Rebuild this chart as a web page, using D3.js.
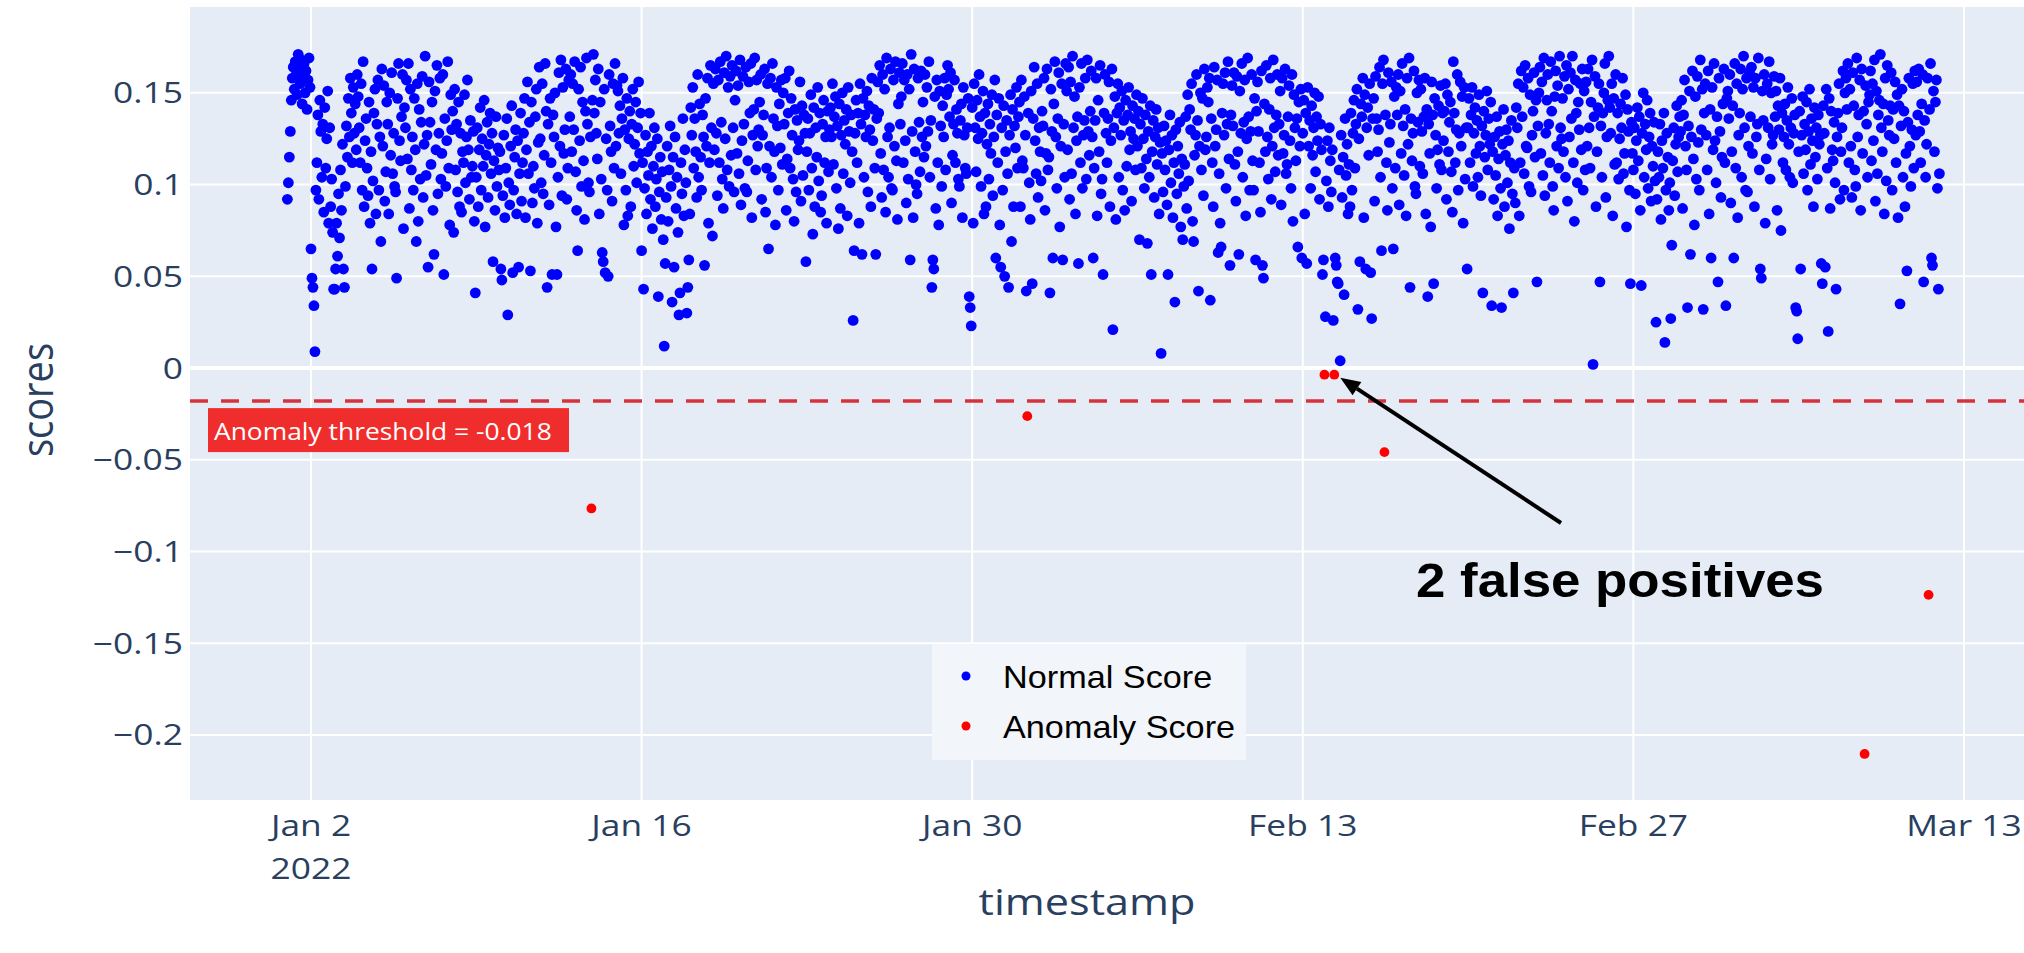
<!DOCTYPE html>
<html>
<head>
<meta charset="utf-8">
<script src="https://cdn.jsdelivr.net/npm/d3@7"></script>
<style>
  html, body { margin: 0; padding: 0; background: #fff; }
  svg { display: block; }
</style>
</head>
<body>
<svg id="chart" width="2024" height="953"></svg>
<script>
// Hourly anomaly scores in thousandths. Each week holds 7 days of 24 hourly values,
// the first week starting 2022-01-01 00:00 UTC. null marks an hour whose score
// appears among the anomalies instead.
const normalWeek1 = [
  [92,101,115,129,146,158,164,152,167,160,149,171,163,155,168,144,159,166,150,162,141,157,169,153],
  [65,49,44,34,9,97,112,138,92,146,129,104,133,85,142,109,125,151,79,131,88,103,74,43],
  [43,54,79,61,95,71,108,86,122,54,44,99,132,115,147,126,158,139,112,153,128,144,119,160],
  [148,131,112,155,97,167,88,124,136,109,94,145,79,118,54,102,139,152,84,133,157,97,126,69],
  [163,121,154,91,107,145,133,84,150,116,161,106,128,99,96,49,147,166,124,113,137,160,76,142],
  [131,157,114,166,87,152,108,126,97,147,119,69,155,80,141,103,134,159,93,122,170,105,127,55],
  [156,134,111,145,86,62,151,119,165,95,128,158,103,117,160,51,136,99,124,167,109,78,149,130]
];
const normalWeek2 = [
  [140,74,152,108,133,96,145,88,128,85,118,112,149,101,126,157,119,92,135,104,110,129,80,41],
  [104,131,88,119,142,97,125,110,146,77,116,134,93,122,139,106,128,58,113,86,137,99,120,108],
  [118,54,48,94,127,82,109,136,29,101,89,121,143,52,97,115,130,84,124,55,106,139,91,112],
  [128,147,82,119,156,106,134,53,145,90,110,98,137,152,79,123,164,125,101,155,95,116,166,140],
  [44,133,89,147,112,51,138,126,150,77,51,104,161,121,168,94,153,117,130,163,92,109,157,137],
  [160,118,155,130,167,107,86,64,152,124,164,99,145,113,81,140,169,133,101,96,126,null,146,171],
  [139,157,128,114,163,84,145,103,63,58,152,52,125,97,50,160,132,118,91,155,109,166,121,154]
];
const normalWeek3 = [
  [151,128,143,106,136,158,78,130,97,147,83,125,140,88,133,152,110,122,145,101,131,156,117,139],
  [64,112,43,98,127,84,118,105,139,92,121,76,110,131,88,103,125,39,96,115,81,107,70,12],
  [57,93,121,80,108,132,99,36,115,55,126,87,104,74,29,41,112,95,136,83,119,101,30,44],
  [59,84,142,127,153,109,136,118,93,160,104,144,115,97,138,126,56,147,121,158,79,112,165,131],
  [72,155,119,163,128,94,157,112,167,134,103,87,161,125,170,108,153,99,159,116,165,131,96,146],
  [162,117,154,106,168,89,124,159,133,98,164,96,113,156,139,166,82,127,141,169,108,157,121,130],
  [145,160,92,127,138,163,85,109,155,65,121,158,104,166,136,118,78,153,132,97,144,120,157,111]
];
const normalWeek4 = [
  [150,133,158,86,114,139,162,109,147,127,103,80,141,96,135,119,124,156,91,143,105,138,128,58],
  [118,136,97,128,149,109,73,142,88,131,115,153,102,139,85,94,133,146,112,126,79,140,107,130],
  [142,126,155,111,137,148,98,132,76,144,87,127,150,106,135,122,141,83,153,129,101,138,118,26],
  [64,128,146,112,139,79,155,133,62,147,104,138,126,151,96,143,130,88,158,124,141,109,62,136],
  [156,139,165,117,93,160,108,152,85,169,126,104,131,163,98,97,157,121,167,113,81,144,161,133],
  [148,166,112,157,124,90,160,103,152,59,171,129,82,163,118,100,95,158,134,107,162,126,145,115],
  [160,121,153,129,167,104,135,44,59,54,148,87,157,112,78,151,132,99,143,126,158,108,149,165]
];
const normalWeek5 = [
  [152,137,161,90,116,133,157,112,141,128,103,99,135,144,82,153,127,109,106,131,147,39,33,23],
  [142,79,155,131,107,146,125,160,137,99,128,151,84,139,88,122,144,103,133,117,149,94,126,157],
  [60,138,112,147,78,55,131,97,143,50,118,135,106,44,127,149,69,141,88,132,120,153,109,137],
  [145,88,157,113,109,148,127,42,null,139,101,81,151,46,136,164,124,106,155,93,131,118,102,140],
  [132,158,86,117,163,108,115,41,152,129,60,144,167,126,98,136,161,77,121,155,59,133,104,166],
  [151,119,164,92,156,106,170,131,148,84,124,137,57,153,112,166,98,127,135,158,103,168,129,116],
  [140,162,126,60,109,135,158,83,146,118,165,95,103,51,139,160,128,112,136,156,88,124,163,21]
];
const normalWeek6 = [
  [131,148,81,139,155,104,142,127,151,97,135,86,146,110,138,153,119,129,91,143,125,136,108,149],
  [121,140,70,133,109,147,125,98,138,114,68,129,104,143,51,118,135,93,126,141,111,131,84,123],
  [8,117,96,132,108,124,89,51,119,138,101,127,82,112,36,130,95,121,106,134,77,114,70,99],
  [111,137,87,149,102,141,130,155,80,69,116,127,160,135,42,121,150,108,147,94,163,119,126,153],
  [145,158,37,136,112,88,164,121,130,157,63,106,79,66,139,155,127,161,98,133,167,114,56,138],
  [154,132,161,111,91,159,118,62,151,128,166,104,134,157,83,125,169,137,97,129,160,113,97,147],
  [59,140,156,129,112,85,162,56,49,144,118,165,126,103,141,158,92,121,168,131,107,138,160,116]
];
const normalWeek7 = [
  [133,151,89,158,117,127,163,106,111,137,154,124,98,160,80,149,131,113,136,66,145,121,152,60],
  [128,146,84,139,57,153,121,135,98,143,116,131,150,107,137,124,148,92,133,119,51,59,null,28],
  [102,124,88,131,113,96,119,26,null,60,56,47,46,108,4,127,93,115,40,136,105,122,84,111],
  [88,139,97,128,146,109,133,152,32,125,58,144,137,158,82,149,54,131,142,116,155,52,27,136],
  [147,91,159,136,118,130,164,104,64,155,168,null,138,112,86,161,123,133,156,98,65,148,109,153],
  [138,160,89,151,117,166,132,105,141,83,158,122,169,44,136,113,128,162,99,95,150,134,157,110],
  [152,129,106,137,158,84,141,39,133,117,77,156,138,46,147,127,98,119,143,111,154,108,139,124]
];
const normalWeek8 = [
  [140,155,92,149,118,134,145,107,85,167,139,112,130,160,97,128,156,121,148,79,153,103,131,54],
  [131,147,112,138,153,99,128,142,117,135,104,149,121,94,132,41,140,115,127,151,108,136,122,145],
  [34,118,92,126,105,137,83,114,129,98,33,122,141,88,116,130,101,124,76,112,135,95,41,109],
  [90,142,131,155,83,112,162,137,153,106,165,121,120,158,99,149,96,127,140,161,115,146,47,132],
  [150,164,117,156,105,169,94,128,146,160,133,112,167,140,99,86,148,162,121,154,109,170,131,125],
  [147,118,159,104,165,91,152,126,161,136,170,112,80,157,139,101,145,130,155,119,163,97,151,108],
  [156,121,163,131,109,145,168,2,137,159,88,118,142,155,47,132,104,139,150,166,93,126,146,170]
];
const normalWeek9 = [
  [142,128,155,83,147,111,160,112,139,103,125,144,131,158,106,117,149,77,141,129,97,46,134,117],
  [108,131,95,124,142,113,137,86,45,128,150,104,133,119,146,98,126,139,91,121,110,134,102,25],
  [92,118,104,133,81,124,109,139,14,97,128,115,86,101,27,67,113,131,94,122,143,107,126,137],
  [129,146,87,138,157,121,108,33,132,151,62,126,162,114,78,148,103,159,123,97,168,130,152,32],
  [139,155,127,108,162,84,141,60,153,119,166,124,101,137,47,158,129,93,115,144,163,112,34,147],
  [151,136,160,90,118,143,60,166,109,155,82,127,139,163,104,152,170,131,97,158,96,121,161,137],
  [164,117,153,88,158,126,133,169,108,54,49,151,135,160,79,114,155,131,167,103,150,122,127,159]
];
const normalWeek10 = [
  [137,151,86,143,130,158,75,139,112,126,144,108,135,153,122,104,131,147,101,128,138,33,31,16],
  [118,140,54,127,148,106,133,119,145,97,129,152,111,136,124,88,142,115,131,103,138,122,127,57],
  [46,143,128,55,152,109,20,147,87,140,119,113,134,101,43,126,139,155,92,118,131,162,97,150],
  [158,141,166,112,152,121,93,161,143,108,99,169,126,138,157,86,163,117,140,null,154,133,104,145],
  [149,162,113,155,124,168,91,151,106,138,146,171,131,118,144,84,158,102,165,135,127,143,161,97],
  [141,125,156,112,149,82,143,35,132,152,104,140,88,117,53,134,158,121,99,130,155,109,162,127],
  [156,138,163,129,112,144,160,47,135,104,122,158,null,141,166,60,56,151,118,145,157,98,43,106]
];
const normalWeeks = [normalWeek1, normalWeek2, normalWeek3, normalWeek4, normalWeek5,
                     normalWeek6, normalWeek7, normalWeek8, normalWeek9, normalWeek10];
const seriesStart = "2022-01-01T00:00:00Z";

// Hours flagged as anomalies and their scores
const anomalyTimes = ["2022-01-13T21:00:00Z", "2022-02-01T08:00:00Z", "2022-02-13T22:00:00Z",
                      "2022-02-14T08:00:00Z", "2022-02-16T11:00:00Z", "2022-03-08T19:00:00Z",
                      "2022-03-11T12:00:00Z"];
const anomalyScores = [-0.0765, -0.0262, -0.0036, -0.0036, -0.0458, -0.2103, -0.1236];

const thresholdValue = -0.018;

// Axis ticks
const yTickValues = [-0.2, -0.15, -0.1, -0.05, 0, 0.05, 0.1, 0.15];
const xTickDates = ["2022-01-02", "2022-01-16", "2022-01-30", "2022-02-13", "2022-02-27", "2022-03-13"];
const xTickLabels = [["Jan 2", "2022"], ["Jan 16"], ["Jan 30"], ["Feb 13"], ["Feb 27"], ["Mar 13"]];

const legendLabels = ["Normal Score", "Anomaly Score"];
const annotationText = "2 false positives";
const falsePositiveTime = "2022-02-14T08:00:00Z";
const falsePositiveScore = -0.0036;

// ---------------------------------------------------------------------------
const plot = { left: 190, top: 7, right: 2024, bottom: 800 };
const colors = {
  bg: "#e5ecf6", grid: "#ffffff", text: "#2a3f5f",
  normal: "#0000ff", anomaly: "#ff0000", threshold: "#d6323c", labelBox: "#f02d2d"
};
const STRETCH = 1.22;   // horizontal widening applied to axis text

const svg = d3.select("#chart");

const x = d3.scaleUtc()
  .domain([new Date("2021-12-27T21:02:00Z"), new Date("2022-03-15T13:00:00Z")])
  .range([plot.left, plot.right]);
const y = d3.scaleLinear()
  .domain([-0.2354, 0.1968])
  .range([plot.bottom, plot.top]);

// plot background
svg.append("rect")
  .attr("x", plot.left).attr("y", plot.top)
  .attr("width", plot.right - plot.left).attr("height", plot.bottom - plot.top)
  .attr("fill", colors.bg);

// vertical grid
const xTicks = xTickDates.map(d => new Date(d + "T00:00:00Z"));
svg.append("g").selectAll("line").data(xTicks).join("line")
  .attr("x1", d => x(d)).attr("x2", d => x(d))
  .attr("y1", plot.top).attr("y2", plot.bottom)
  .attr("stroke", colors.grid).attr("stroke-width", 2);

// horizontal grid (zero line drawn heavier)
svg.append("g").selectAll("line").data(yTickValues).join("line")
  .attr("x1", plot.left).attr("x2", plot.right)
  .attr("y1", d => y(d)).attr("y2", d => y(d))
  .attr("stroke", colors.grid).attr("stroke-width", d => d === 0 ? 4 : 2);

// y tick labels
const fmtY = v => v === 0 ? "0" : (v < 0 ? "\u2212" : "") + String(Math.abs(v));
svg.append("g").selectAll("text").data(yTickValues).join("text")
  .attr("transform", d => `translate(183,${y(d)}) scale(${STRETCH},1)`)
  .attr("dy", "0.36em")
  .attr("text-anchor", "end")
  .attr("font-family", "'Open Sans', sans-serif")
  .attr("font-size", 29)
  .attr("fill", colors.text)
  .text(fmtY);

// x tick labels
const xLab = svg.append("g").selectAll("g").data(xTicks).join("g")
  .attr("transform", d => `translate(${x(d)},0)`);
xLab.each(function(d, i) {
  const g = d3.select(this);
  xTickLabels[i].forEach((line, k) => {
    g.append("text")
      .attr("transform", `translate(0,${836 + k * 43}) scale(${STRETCH},1)`)
      .attr("text-anchor", "middle")
      .attr("font-family", "'Open Sans', sans-serif")
      .attr("font-size", 29)
      .attr("fill", colors.text)
      .text(line);
  });
});

// axis titles
svg.append("text")
  .attr("transform", `translate(38,400) scale(1.15,1) rotate(-90)`)
  .attr("dy", "0.35em")
  .attr("text-anchor", "middle")
  .attr("font-family", "'Open Sans', sans-serif")
  .attr("font-size", 38)
  .attr("fill", colors.text)
  .text("scores");
svg.append("text")
  .attr("transform", `translate(1087,915) scale(1.2,1)`)
  .attr("text-anchor", "middle")
  .attr("font-family", "'Open Sans', sans-serif")
  .attr("font-size", 36)
  .attr("fill", colors.text)
  .text("timestamp");

// normal scores
const t0 = new Date(seriesStart).getTime();
const HOUR = 3600e3, DAY = 24 * HOUR, WEEK = 7 * DAY;
const normalPoints = [];
normalWeeks.forEach((week, w) => {
  week.forEach((day, d) => {
    day.forEach((v, h) => {
      if (v !== null) {
        normalPoints.push({ t: new Date(t0 + w * WEEK + d * DAY + h * HOUR), v: v / 1000 });
      }
    });
  });
});
svg.append("g").selectAll("circle").data(normalPoints).join("circle")
  .attr("cx", d => x(d.t)).attr("cy", d => y(d.v))
  .attr("r", 5.4)
  .attr("fill", colors.normal);

// threshold line
svg.append("line")
  .attr("x1", plot.left).attr("x2", plot.right)
  .attr("y1", y(thresholdValue)).attr("y2", y(thresholdValue))
  .attr("stroke", colors.threshold).attr("stroke-width", 3.5)
  .attr("stroke-dasharray", "18,13");

// anomaly scores
const anomalyPoints = anomalyTimes.map((t, i) => ({ t: new Date(t), v: anomalyScores[i] }));
svg.append("g").selectAll("circle").data(anomalyPoints).join("circle")
  .attr("cx", d => x(d.t)).attr("cy", d => y(d.v))
  .attr("r", 4.9)
  .attr("fill", colors.anomaly);

// threshold label
const labelG = svg.append("g");
labelG.append("rect")
  .attr("x", 208).attr("y", y(thresholdValue) + 7)
  .attr("width", 361).attr("height", 44)
  .attr("fill", colors.labelBox);
labelG.append("text")
  .attr("transform", `translate(214,${y(thresholdValue) + 39}) scale(1.1,1)`)
  .attr("font-family", "'Open Sans', sans-serif")
  .attr("font-size", 24)
  .attr("fill", "#ffffff")
  .text(`Anomaly threshold = ${thresholdValue}`);

// legend
const legend = svg.append("g");
legend.append("rect")
  .attr("x", 932).attr("y", 644).attr("width", 314).attr("height", 116)
  .attr("fill", "#f2f5fa");
legendLabels.forEach((lab, i) => {
  const cy = 676 + i * 50;
  legend.append("circle").attr("cx", 966).attr("cy", cy).attr("r", 4.5)
    .attr("fill", i === 0 ? colors.normal : colors.anomaly);
  legend.append("text")
    .attr("transform", `translate(1003,${cy + 11.5}) scale(1.07,1)`)
    .attr("font-family", "'Liberation Sans', Arial, sans-serif")
    .attr("font-size", 32)
    .attr("fill", "#000")
    .text(lab);
});

// annotation arrow pointing at the false positives
const tipX = x(new Date(falsePositiveTime)) + 6;
const tipY = y(falsePositiveScore) + 3;
const tailX = 1561, tailY = 523;
const ang = Math.atan2(tipY - tailY, tipX - tailX);
const headLen = 20, headHalf = 8;
const baseX = tipX - headLen * Math.cos(ang), baseY = tipY - headLen * Math.sin(ang);
svg.append("line")
  .attr("x1", tailX).attr("y1", tailY).attr("x2", baseX).attr("y2", baseY)
  .attr("stroke", "#000").attr("stroke-width", 4);
svg.append("path")
  .attr("d", `M${tipX},${tipY} L${baseX + headHalf * Math.sin(ang)},${baseY - headHalf * Math.cos(ang)} L${baseX - headHalf * Math.sin(ang)},${baseY + headHalf * Math.cos(ang)} Z`)
  .attr("fill", "#000");
svg.append("text")
  .attr("x", 1416).attr("y", 597)
  .attr("font-family", "'Liberation Sans', Arial, sans-serif")
  .attr("font-weight", "bold")
  .attr("font-size", 48)
  .attr("textLength", 408)
  .attr("lengthAdjust", "spacingAndGlyphs")
  .attr("fill", "#000")
  .text(annotationText);
</script>
</body>
</html>
